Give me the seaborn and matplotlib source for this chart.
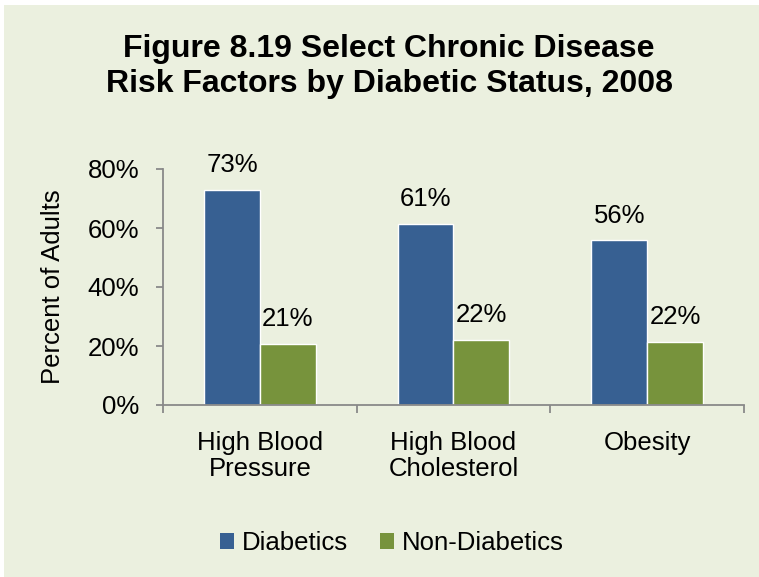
import matplotlib
matplotlib.use("Agg")
import matplotlib.pyplot as plt
import matplotlib.patches as mpatches
import pandas as pd
import seaborn as sns

# values
categories = ["High Blood\nPressure", "High Blood\nCholesterol", "Obesity"]
diabetics = [72.9, 61.4, 55.9]
non_diabetics = [20.7, 22.1, 21.5]
series_names = ["Diabetics", "Non-Diabetics"]
y_ticks = [0, 20, 40, 60, 80]
title_lines = ["Figure 8.19 Select Chronic Disease", "Risk Factors by Diabetic Status, 2008"]

df = pd.DataFrame({
    "category": categories * 2,
    "group": [series_names[0]] * 3 + [series_names[1]] * 3,
    "value": diabetics + non_diabetics,
})

BG = "#EBF0DF"
BLUE = "#376092"
GREEN = "#77933C"
AXIS = "#898989"
FS = 18.5

sns.set_theme(style="white")
plt.rcParams["font.family"] = ["Liberation Sans", "DejaVu Sans"]
plt.rcParams["text.color"] = "black"
plt.rcParams["axes.labelcolor"] = "black"

fig = plt.figure(figsize=(7.59, 5.77), dpi=100, facecolor="white")
fig.patches.append(mpatches.Rectangle((4 / 759, 0), 1, 1 - 5 / 577,
                                      transform=fig.transFigure,
                                      facecolor=BG, edgecolor="none", zorder=-10))

ax = fig.add_axes([163 / 759, 172 / 577, 581 / 759, 236 / 577])
ax.set_facecolor("none")

sns.barplot(data=df, x="category", y="value", hue="group",
            palette=[BLUE, GREEN], width=0.575, saturation=1,
            errorbar=None, legend=False, ax=ax)

# data labels
for cont in ax.containers:
    labels = [f"{round(b.get_height())}%" for b in cont]
    ax.bar_label(cont, labels=labels, padding=9, fontsize=FS, color="black")

ax.set_ylim(0, 80)
ax.set_xlim(-0.5, 2.5)
ax.set_yticks(y_ticks)
ax.set_yticklabels([f"{t}%" for t in y_ticks], fontsize=FS)
ax.set_xticks([0, 1, 2])
ax.set_xticklabels(categories, fontsize=FS, linespacing=1.08)
ax.set_xlabel("")
ax.set_ylabel("Percent of Adults", fontsize=FS)
ax.yaxis.set_label_coords(-0.168, 0.5)

# category boundary ticks on x axis
ax.set_xticks([-0.5, 0.5, 1.5, 2.5], minor=True)
ax.tick_params(axis="x", which="major", length=0, pad=19, labelcolor="black")
ax.tick_params(axis="x", which="minor", length=5.5, width=1.3, color=AXIS,
               direction="out", bottom=True)
ax.tick_params(axis="y", length=5, width=1.3, color=AXIS, direction="out",
               left=True, pad=12, labelcolor="black")

sns.despine(ax=ax)
for side in ["left", "bottom"]:
    ax.spines[side].set_color(AXIS)
    ax.spines[side].set_linewidth(1.3)

handles = [mpatches.Patch(facecolor=c, edgecolor="none", label=n)
           for c, n in zip([BLUE, GREEN], series_names)]
fig.legend(handles=handles, loc="center", bbox_to_anchor=(392 / 759, 1 - 543 / 577),
           ncol=2, frameon=False, fontsize=FS, handlelength=0.55, handleheight=0.55,
           handletextpad=0.31, columnspacing=1.25, borderpad=0)

fig.text(389 / 759, 1 - 57 / 577, title_lines[0], ha="center", va="baseline",
         fontsize=23, fontweight="bold")
fig.text(389 / 759, 1 - 92 / 577, title_lines[1], ha="center", va="baseline",
         fontsize=23, fontweight="bold")

fig.savefig("out.png", dpi=100, facecolor="white")
